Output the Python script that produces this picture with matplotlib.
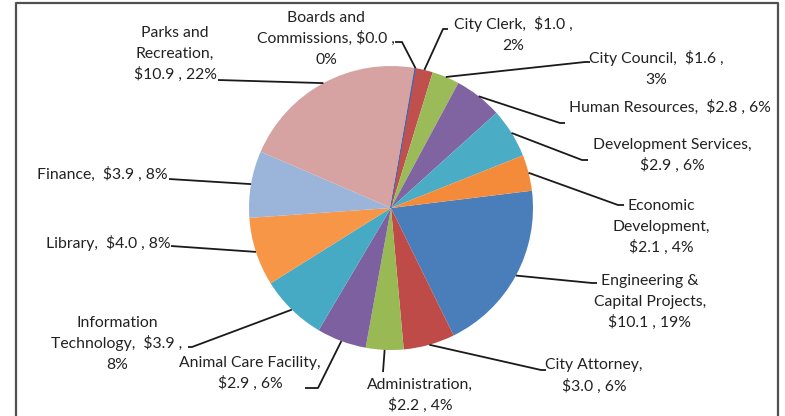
import numpy as np
import matplotlib
matplotlib.use('Agg')
import matplotlib.pyplot as plt

# slices in drawing order (clockwise, Excel style)
names = ['Engineering &\nCapital Projects,', 'City Attorney,', 'Administration,',
         'Animal Care Facility,', 'Information\nTechnology,', 'Library,', 'Finance,',
         'Parks and\nRecreation,', 'Boards and\nCommissions,', 'City Clerk,',
         'City Council,', 'Human Resources,', 'Development Services,',
         'Economic\nDevelopment,']
values = [10.1, 3.0, 2.2, 2.9, 3.9, 4.0, 3.9, 10.9, 0.04, 1.0, 1.6, 2.8, 2.9, 2.1]
amounts = ['$10.1', '$3.0', '$2.2', '$2.9', '$3.9', '$4.0', '$3.9', '$10.9', '$0.0',
           '$1.0', '$1.6', '$2.8', '$2.9', '$2.1']
pcts = ['19%', '6%', '4%', '6%', '8%', '8%', '8%', '22%', '0%', '2%', '3%', '6%', '6%', '4%']
colors = ['#4A7EBB', '#BE4B48', '#98B954', '#7D60A0', '#46AAC5', '#F79646', '#9BB4DA',
          '#D6A3A2', '#2F6FC0', '#C0504D', '#9BBB59', '#8064A2', '#4BACC6', '#F38B3A']

# label text built from the data, with line breaks like the original
label_fmt = ['{n}\n{a} , {p}', '{n}\n{a} , {p}', '{n}\n{a} , {p}', '{n}\n{a} , {p}',
             '{n}  {a} ,\n{p}', '{n}  {a} , {p}', '{n}  {a} , {p}', '{n}\n{a} , {p}',
             '{n} {a} ,\n{p}', '{n}  {a} ,\n{p}', '{n}  {a} ,\n{p}', '{n}  {a} , {p}',
             '{n}\n{a} , {p}', '{n}\n{a} , {p}']

# layout (image pixel coords, y down): label centre and leader start points
W, H = 785, 416
label_pos = [(650, 301), (594, 375), (420, 394), (250, 372), (117, 343), (108, 243),
             (102, 174), (175, 53), (326, 38), (513, 34), (656, 69), (670, 107),
             (672, 154), (661, 226)]
leader_pts = [[(597, 283), (592, 283)], [(546, 370), (541, 370)], [(383, 372)],
              [(305, 388), (318, 388)], [(188, 347), (192, 347)], [(171, 246)],
              [(169, 179)], [(218, 80)], [(395, 42), (402, 42)], [(448, 29), (443, 29)],
              [(590, 62), (585, 62)], [(565, 123), (560, 123)], [(588, 160), (582, 160)],
              [(624, 205), (618, 205)]]
cx, cy, rad = 391, 208, 142
start = 7
line_h = 21

plt.rcParams['font.family'] = ['Lato', 'DejaVu Sans']

fig = plt.figure(figsize=(W / 100, H / 100), dpi=100)
ax = fig.add_axes([0, 0, 1, 1])

wedges, _ = ax.pie(values, colors=colors, startangle=start, counterclock=False,
                   center=(cx, H - cy), radius=rad, frame=True,
                   wedgeprops={'linewidth': 0})
# the near-zero slice still shows as a thin line
wedges[8].set_edgecolor(colors[8])
wedges[8].set_linewidth(0.8)
ax.set_xlim(0, W)
ax.set_ylim(0, H)
ax.set_aspect('auto')
ax.axis('off')

frac = np.cumsum([0] + values) / sum(values)
for i in range(len(values)):
  mid = np.deg2rad(start - 180 * (frac[i] + frac[i + 1]))
  px = cx + rad * np.cos(mid)
  py = cy - rad * np.sin(mid)
  pts = leader_pts[i] + [(px, py)]
  xs = [p[0] for p in pts]
  ys = [H - p[1] for p in pts]
  ax.plot(xs, ys, color='#1a1a1a', lw=1.3, solid_capstyle='butt')
  lines = label_fmt[i].format(n=names[i], a=amounts[i], p=pcts[i]).split('\n')
  lx, ly = label_pos[i]
  n = len(lines)
  for k, s in enumerate(lines):
    by = ly + (k - (n - 1) / 2) * line_h + 5
    ax.text(lx, H - by, s, ha='center', va='baseline', fontsize=11.3,
            color='#222222')

# outer frame
ax.plot([16, 16, 778, 778], [0, H - 3, H - 3, 0], color='#505050', lw=1.6)

fig.savefig('out.png', dpi=100)
